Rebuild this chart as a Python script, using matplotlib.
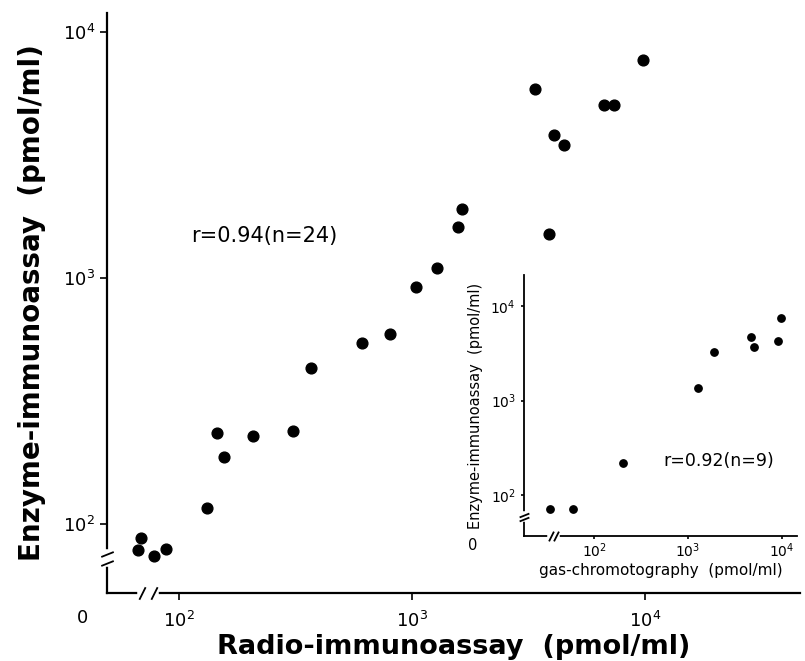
import numpy as np
import matplotlib
matplotlib.use("Agg")
import matplotlib.pyplot as plt
from matplotlib.ticker import FixedLocator, NullLocator, FixedFormatter

# main panel: radio-immunoassay vs enzyme-immunoassay (pmol/ml)
ria = [67, 69, 78, 88, 132, 146, 156, 208, 308, 369, 610, 805, 1040, 1280,
       1575, 1640, 3370, 3870, 4070, 4490, 6670, 7360, 9800]
eia = [78, 88, 74, 79, 116, 234, 187, 228, 239, 431, 544, 592, 919, 1100,
       1610, 1907, 5870, 1510, 3810, 3470, 5050, 5050, 7690]

# inset: gas-chromotography vs enzyme-immunoassay (pmol/ml)
gc = [34, 60, 202, 1277, 1890, 4645, 5035, 9000, 9680]
eia_gc = [70.6, 71.6, 216, 1366, 3260, 4698, 3655, 4263, 7413]

decades = [1e2, 1e3, 1e4]
main_ticklabels = ["10$^2$", "10$^3$", "10$^4$"]

plt.rcParams['font.family'] = ['DejaVu Sans']


def style_log_axes(ax, fs, ticklen):
    ax.set_xscale("log")
    ax.set_yscale("log")
    for s in ["top", "right"]:
        ax.spines[s].set_visible(False)
    for s in ["left", "bottom"]:
        ax.spines[s].set_linewidth(1.6)
    ax.xaxis.set_major_locator(FixedLocator(decades))
    ax.yaxis.set_major_locator(FixedLocator(decades))
    ax.xaxis.set_minor_locator(NullLocator())
    ax.yaxis.set_minor_locator(NullLocator())
    ax.xaxis.set_major_formatter(FixedFormatter(main_ticklabels))
    ax.yaxis.set_major_formatter(FixedFormatter(main_ticklabels))
    ax.tick_params(direction="out", length=ticklen, width=1.2, labelsize=fs)


def add_breaks(ax, xf, yf, size):
    # white gaps in the spines, then the slash marks
    ax.plot([xf - 0.012, xf + 0.012], [0, 0], color="white", lw=4,
            transform=ax.transAxes, clip_on=False, zorder=5)
    ax.plot([0, 0], [yf - 0.01, yf + 0.01], color="white", lw=4,
            transform=ax.transAxes, clip_on=False, zorder=5)
    kw = dict(marker=[(-0.5, -1), (0.5, 1)], markersize=size, linestyle="none",
              color="k", mec="k", mew=1.3, transform=ax.transAxes,
              clip_on=False, zorder=6)
    ax.plot([xf - 0.009, xf + 0.009], [0, 0], **kw)
    kw["marker"] = [(-1, -0.4), (1, 0.4)]
    ax.plot([0, 0], [yf - 0.008, yf + 0.008], **kw)


fig = plt.figure(figsize=(8.05, 6.61), dpi=100)

ax = fig.add_axes([0.1329, 0.1029, 0.861, 0.8775])
ax.scatter(ria, eia, s=60, color="black", zorder=3)
ax.set_xlim(49.1, 46200)
ax.set_ylim(52.4, 11940)
style_log_axes(ax, 13, 5)
ax.tick_params(axis="x", pad=8)
ax.set_xlabel("Radio-immunoassay  (pmol/ml)", fontsize=19.5, fontweight="bold",
              labelpad=2)
ax.set_ylabel("Enzyme-immunoassay  (pmol/ml)", fontsize=20, fontweight="bold",
              labelpad=12)
ax.text(-0.035, -0.043, "0", transform=ax.transAxes, fontsize=13,
        ha="center", va="center")
ax.text(0.121, 0.605, "r=0.94(n=24)", transform=ax.transAxes, fontsize=15)
add_breaks(ax, 0.059, 0.06, 9)

ins = fig.add_axes([0.651, 0.189, 0.339, 0.395])
ins.scatter(gc, eia_gc, s=28, color="black", zorder=3)
ins.set_xlim(18.0, 14450)
ins.set_ylim(36.8, 21300)
style_log_axes(ins, 10, 2.5)
ins.tick_params(axis="x", pad=1.5)
ins.spines["left"].set_linewidth(1.3)
ins.spines["bottom"].set_linewidth(1.3)
ins.set_xlabel("gas-chromotography  (pmol/ml)", fontsize=11, labelpad=2)
ins.set_ylabel("Enzyme-immunoassay  (pmol/ml)", fontsize=10.5, labelpad=5)
ins.text(-0.19, -0.035, "0", transform=ins.transAxes, fontsize=10.5,
         ha="center", va="center")
ins.text(0.51, 0.27, "r=0.92(n=9)", transform=ins.transAxes, fontsize=12.5)
add_breaks(ins, 0.108, 0.074, 7)

fig.savefig("out.png", dpi=100)
